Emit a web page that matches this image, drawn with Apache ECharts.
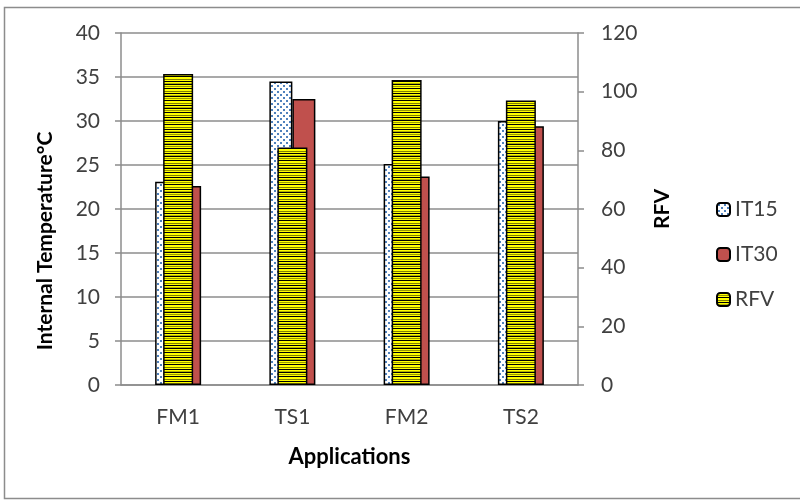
<!DOCTYPE html>
<html>
<head>
<meta charset="utf-8">
<script src="https://cdn.jsdelivr.net/npm/echarts@6/dist/echarts.min.js"></script>
<style>html,body{margin:0;padding:0;background:#fff}#c{width:800px;height:501px}</style>
</head>
<body>
<div id="c"></div>
<script>
var categories = ['FM1', 'TS1', 'FM2', 'TS2'];
var it15 = [23.1, 34.5, 25.1, 30.0];
var it30 = [22.6, 32.5, 23.7, 29.4];
var rfv = [106, 81, 104, 97];
var leftTicks = {min: 0, max: 40, interval: 5};
var rightTicks = {min: 0, max: 120, interval: 20};

function dotPattern() {
  var c = document.createElement('canvas');
  c.width = 6; c.height = 6;
  var g = c.getContext('2d');
  g.fillStyle = '#ffffff'; g.fillRect(0, 0, 6, 6);
  g.fillStyle = '#4f81bd';
  g.fillRect(1, 1, 2, 2);
  g.fillRect(4, 4, 2, 2);
  return c;
}
function stripePattern() {
  var c = document.createElement('canvas');
  c.width = 8; c.height = 12;
  var g = c.getContext('2d');
  var rows = ['#000000', '#ffff00', '#999900', '#ffff00', '#000000', '#ffff00', '#ffff00', '#808000', '#ffff00', '#000000', '#ffff00', '#b3b300'];
  for (var i = 0; i < rows.length; i++) { g.fillStyle = rows[i]; g.fillRect(0, i, 8, 1); }
  return c;
}

var gridColor = '#8c8c8c';
var txt = '#404040';
var font = 'Lato';
var chart = echarts.init(document.getElementById('c'), null, {renderer: 'canvas'});
chart.setOption({
  animation: false,
  backgroundColor: '#fff',
  textStyle: {fontFamily: font},
  grid: {left: 121, right: 222, top: 33, bottom: 116, containLabel: false},
  graphic: [{
    type: 'rect', shape: {x: 4.5, y: 7.5, width: 800, height: 491},
    style: {fill: null, stroke: gridColor, lineWidth: 1.5}, silent: true, z: -10
  }],
  legend: {
    orient: 'vertical', left: 716, top: 199, padding: 0,
    itemWidth: 13, itemHeight: 13, itemGap: 24,
    textStyle: {fontFamily: font, fontSize: 21, color: txt, lineHeight: 16},
    data: ['IT15', 'IT30', 'RFV']
  },
  xAxis: [{
    type: 'category', data: categories,
    axisLine: {show: true, lineStyle: {color: gridColor, width: 1.5}},
    axisTick: {show: false},
    axisLabel: {fontFamily: font, fontSize: 21, color: txt, margin: 22},
    name: 'Applications', nameLocation: 'middle', nameGap: 61,
    nameTextStyle: {fontFamily: font, fontSize: 22, fontWeight: 'bold', color: '#000'}
  }, {
    type: 'category', data: categories, show: false
  }],
  yAxis: [{
    type: 'value', min: leftTicks.min, max: leftTicks.max, interval: leftTicks.interval,
    axisLine: {show: true, lineStyle: {color: gridColor, width: 1.5}},
    axisTick: {show: true, length: 6, lineStyle: {color: gridColor, width: 1.5}},
    splitLine: {show: true, lineStyle: {color: gridColor, width: 1.5}},
    axisLabel: {fontFamily: font, fontSize: 21, color: txt, margin: 21},
    name: 'Internal Temperature°C', nameLocation: 'middle', nameGap: 65, nameRotate: 90,
    nameTextStyle: {fontFamily: font, fontSize: 21, fontWeight: 'bold', color: '#000', padding: [0, 64, 0, 0]}
  }, {
    type: 'value', position: 'right', min: rightTicks.min, max: rightTicks.max, interval: rightTicks.interval,
    axisLine: {show: true, lineStyle: {color: gridColor, width: 1.5}},
    axisTick: {show: true, length: 6, lineStyle: {color: gridColor, width: 1.5}},
    splitLine: {show: false},
    axisLabel: {fontFamily: font, fontSize: 21, color: txt, margin: 23},
    name: 'RFV', nameLocation: 'middle', nameGap: 74, nameRotate: 90,
    nameTextStyle: {fontFamily: font, fontSize: 21, fontWeight: 'bold', color: '#000'}
  }],
  series: [{
    name: 'IT15', type: 'bar', xAxisIndex: 0, yAxisIndex: 0, data: it15,
    barWidth: 23, barGap: '0%',
    itemStyle: {color: {image: dotPattern(), repeat: 'repeat'}, borderColor: '#000', borderWidth: 1.5}
  }, {
    name: 'IT30', type: 'bar', xAxisIndex: 0, yAxisIndex: 0, data: it30,
    barWidth: 23, barGap: '0%',
    itemStyle: {color: '#c0504d', borderColor: '#000', borderWidth: 1.5}
  }, {
    name: 'RFV', type: 'bar', xAxisIndex: 1, yAxisIndex: 1, data: rfv,
    barWidth: 30, z: 5,
    itemStyle: {color: {image: stripePattern(), repeat: 'repeat'}, borderColor: '#000', borderWidth: 1.5}
  }]
});
</script>
</body>
</html>
